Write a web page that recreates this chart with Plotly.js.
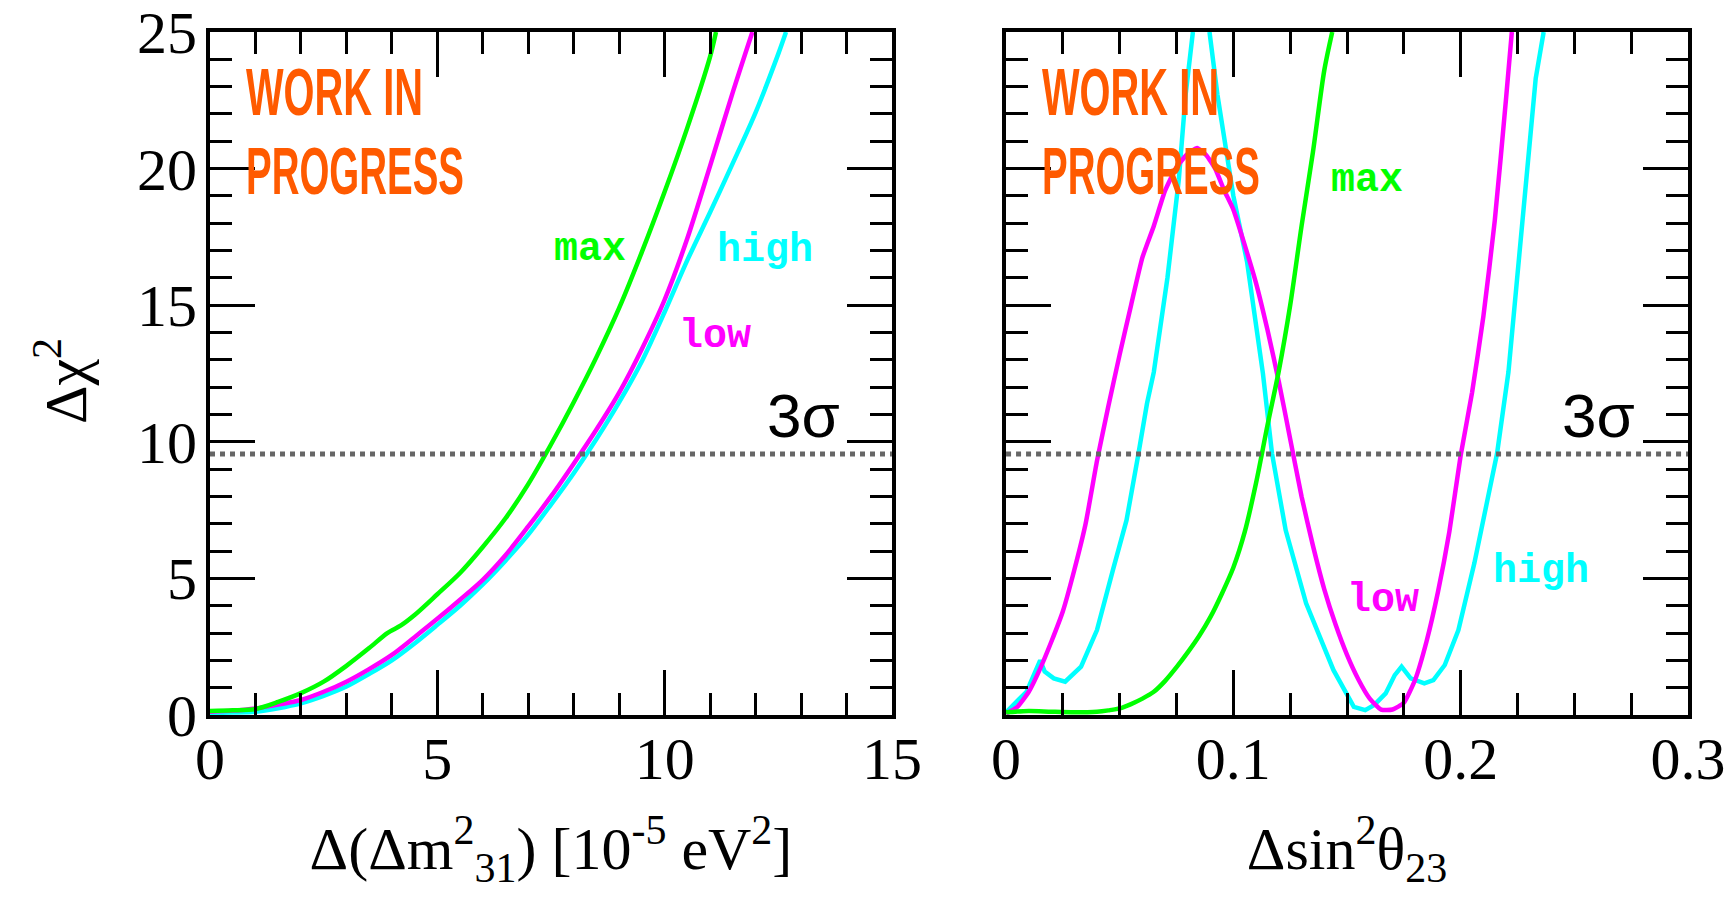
<!DOCTYPE html>
<html>
<head>
<meta charset="utf-8">
<script src="https://cdn.plot.ly/plotly-3.0.1.min.js"></script>
<style>
  html, body { margin: 0; padding: 0; background: #ffffff; }
  #chart { width: 1735px; height: 900px; }
</style>
</head>
<body>
<div id="chart"></div>
<script>
// ---------------- DATA ----------------
// Left panel: Delta(Delta m^2_31) [1e-5 eV^2]
var dmMaxX  = [0, 0.5, 1, 1.5, 2, 2.5, 3, 3.5, 3.9, 4.2, 4.5, 5, 5.5, 6, 6.5, 7, 7.5, 8, 8.5, 9, 9.5, 10, 10.5, 11, 11.13];
var dmMaxY  = [0.15, 0.17, 0.22, 0.48, 0.8, 1.22, 1.8, 2.45, 3.0, 3.28, 3.66, 4.42, 5.2, 6.15, 7.2, 8.45, 9.9, 11.45, 13.1, 14.9, 16.95, 19.15, 21.5, 24.1, 25];

var dmLowX  = [0, 0.5, 1, 1.5, 2, 2.5, 3, 3.5, 4, 4.5, 5, 5.5, 6, 6.5, 7, 7.5, 8, 8.5, 9, 9.5, 10, 10.5, 11, 11.5, 11.93];
var dmLowY  = [0.12, 0.16, 0.24, 0.38, 0.55, 0.85, 1.22, 1.68, 2.2, 2.85, 3.52, 4.22, 4.95, 5.85, 6.9, 8.0, 9.2, 10.45, 11.8, 13.4, 15.2, 17.45, 20.1, 22.8, 25];

var dmHighX = [0, 0.5, 1, 1.5, 2, 2.5, 3, 3.5, 4, 4.5, 5, 5.5, 6, 6.5, 7, 7.5, 8, 8.5, 9, 9.5, 10, 10.5, 11, 11.5, 12, 12.5, 12.67];
var dmHighY = [0.08, 0.09, 0.12, 0.25, 0.43, 0.7, 1.04, 1.5, 2.0, 2.62, 3.3, 4.0, 4.78, 5.65, 6.6, 7.7, 8.85, 10.1, 11.45, 12.95, 14.75, 16.65, 18.4, 20.2, 22.05, 24.2, 25];

// Right panel: Delta sin^2 theta_23
var thMaxX  = [0, 0.01, 0.02, 0.03, 0.04, 0.045, 0.05, 0.055, 0.06, 0.065, 0.07, 0.075, 0.08, 0.085, 0.09, 0.095, 0.1, 0.105, 0.11, 0.115, 0.12, 0.125, 0.13, 0.135, 0.14, 0.1435];
var thMaxY  = [0.1, 0.15, 0.12, 0.1, 0.12, 0.17, 0.24, 0.4, 0.6, 0.85, 1.25, 1.75, 2.3, 2.9, 3.6, 4.45, 5.4, 6.7, 8.5, 10.6, 12.6, 15.0, 17.9, 20.6, 23.6, 25];

var thLowX  = [0, 0.005, 0.01, 0.015, 0.02, 0.025, 0.03, 0.035, 0.04, 0.045, 0.05, 0.055, 0.06, 0.065, 0.07, 0.075, 0.08, 0.084, 0.088, 0.092, 0.096, 0.1, 0.105, 0.11, 0.115, 0.12, 0.125, 0.13, 0.135, 0.14, 0.145, 0.15, 0.155, 0.16, 0.165, 0.17, 0.175, 0.18, 0.185, 0.19, 0.195, 0.2, 0.205, 0.21, 0.215, 0.22, 0.2225];
var thLowY  = [0.05, 0.3, 0.85, 1.7, 2.7, 3.8, 5.3, 7.0, 9.3, 11.3, 13.2, 15.0, 16.75, 17.9, 19.2, 20.05, 20.55, 20.75, 20.5, 20.0, 19.2, 18.5, 17.2, 15.8, 14.1, 12.2, 10.1, 8.0, 6.2, 4.6, 3.3, 2.2, 1.3, 0.6, 0.2, 0.2, 0.45, 1.3, 2.7, 4.5, 6.7, 9.5, 11.8, 14.6, 18.1, 22.6, 25];

var thHighX = [0, 0.009, 0.015, 0.017, 0.021, 0.026, 0.033, 0.040, 0.047, 0.053, 0.058, 0.062, 0.065, 0.071, 0.076, 0.079, 0.0822, null, 0.0895, 0.093, 0.1, 0.106, 0.113, 0.117, 0.123, 0.132, 0.144, 0.149, 0.153, 0.158, 0.162, 0.167, 0.171, 0.174, 0.178, 0.184, 0.188, 0.193, 0.199, 0.206, 0.212, 0.216, 0.221, 0.225, 0.229, 0.233, 0.2365];
var thHighY = [0.1, 0.85, 2.0, 1.59, 1.34, 1.22, 1.77, 3.11, 5.3, 7.13, 9.45, 11.4, 12.55, 16.0, 19.6, 22.7, 25, null, 25, 22.7, 19.0, 16.6, 12.5, 9.57, 6.77, 4.09, 1.65, 0.91, 0.30, 0.18, 0.37, 0.79, 1.46, 1.77, 1.34, 1.16, 1.28, 1.83, 3.11, 5.55, 7.99, 9.57, 12.55, 16.0, 19.6, 23.3, 25];

var threeSigma = 9.55;
var dmRange = [0, 15];
var thRange = [0, 0.3];
var chiRange = [0, 25];

var seriesNames = ['max', 'high', 'low'];
var seriesColors = {max: '#00ff00', high: '#00ffff', low: '#ff00ff'};

// ---------------- TRACES ----------------
function curve(x, y, name, xa, ya, smooth) {
  var line = {color: seriesColors[name], width: 4.5};
  if (smooth) { line.shape = 'spline'; line.smoothing = smooth; }
  return {x: x, y: y, type: 'scatter', mode: 'lines', name: name, xaxis: xa, yaxis: ya,
          connectgaps: false, showlegend: false, hoverinfo: 'skip', line: line};
}
function sigmaLine(range, xa, ya) {
  return {x: range, y: [threeSigma, threeSigma], type: 'scatter', mode: 'lines', xaxis: xa, yaxis: ya,
          showlegend: false, hoverinfo: 'skip', line: {color: '#666666', width: 5, dash: 'dot'}};
}
var traces = [
  curve(dmHighX, dmHighY, 'high', 'x', 'y', 0.8),
  curve(dmLowX, dmLowY, 'low', 'x', 'y', 0.8),
  curve(dmMaxX, dmMaxY, 'max', 'x', 'y', 0.8),
  sigmaLine(dmRange, 'x', 'y'),
  curve(thHighX, thHighY, 'high', 'x2', 'y2'),
  curve(thLowX, thLowY, 'low', 'x2', 'y2', 0.5),
  curve(thMaxX, thMaxY, 'max', 'x2', 'y2', 0.8),
  sigmaLine(thRange, 'x2', 'y2')
];

// ---------------- LAYOUT ----------------
var serif = 'Liberation Serif, Times New Roman, serif';
function axis(extra) {
  var base = {
    showline: true, linewidth: 4, linecolor: '#000000', mirror: 'ticks',
    ticks: 'inside', ticklen: 45, tickwidth: 3, tickcolor: '#000000',
    showgrid: false, zeroline: false, fixedrange: true, ticklabeloverflow: 'allow',
    tickfont: {family: serif, size: 60, color: '#000000'},
    minor: {ticks: 'inside', ticklen: 22, tickwidth: 3, tickcolor: '#000000', showgrid: false}
  };
  for (var k in extra) {
    if (k === 'minor') { for (var m in extra.minor) base.minor[m] = extra.minor[m]; }
    else base[k] = extra[k];
  }
  return base;
}

var labelFont = function (c) { return {family: 'Liberation Mono, Courier New, monospace', size: 40, color: c, weight: 'bold'}; };
var wipFont = {family: 'Liberation Sans Narrow, Liberation Sans, Arial, sans-serif', size: 66, color: '#ff5a00', weight: 'bold'};
var sigFont = {family: 'Liberation Sans, Arial, sans-serif', size: 62, color: '#000000'};

function ann(text, x, y, xref, yref, font, xanchor, yanchor) {
  return {text: text, x: x, y: y, xref: xref, yref: yref, showarrow: false, font: font,
          xanchor: xanchor || 'center', yanchor: yanchor || 'middle'};
}

var annotations = [
  ann('WORK IN', 0.05, 0.969, 'x domain', 'y domain', wipFont, 'left', 'top'),
  ann('PROGRESS', 0.05, 0.853, 'x domain', 'y domain', wipFont, 'left', 'top'),
  ann('WORK IN', 0.05, 0.969, 'x2 domain', 'y2 domain', wipFont, 'left', 'top'),
  ann('PROGRESS', 0.05, 0.853, 'x2 domain', 'y2 domain', wipFont, 'left', 'top'),
  ann('3σ', 13.9, 9.63, 'x', 'y', sigFont, 'right', 'bottom'),
  ann('3σ', 0.2776, 9.63, 'x2', 'y2', sigFont, 'right', 'bottom'),
  ann(seriesNames[0], 8.36, 17.03, 'x', 'y', labelFont(seriesColors.max)),
  ann(seriesNames[1], 12.2, 17.0, 'x', 'y', labelFont(seriesColors.high)),
  ann(seriesNames[2], 11.1, 13.86, 'x', 'y', labelFont(seriesColors.low)),
  ann(seriesNames[0], 0.159, 19.56, 'x2', 'y2', labelFont(seriesColors.max)),
  ann(seriesNames[1], 0.2354, 5.24, 'x2', 'y2', labelFont(seriesColors.high)),
  ann(seriesNames[2], 0.166, 4.2, 'x2', 'y2', labelFont(seriesColors.low))
];

var layout = {
  width: 1735, height: 900,
  margin: {l: 210, r: 47, t: 32, b: 185},
  paper_bgcolor: '#ffffff', plot_bgcolor: '#ffffff',
  showlegend: false,
  xaxis: axis({domain: [0, 0.4614], range: dmRange, tick0: 0, dtick: 5, anchor: 'y',
               minor: {dtick: 1}, ticklabelstandoff: -12,
               title: {text: 'Δ(Δm<sup>2</sup><sub>31</sub>) [10<sup>-5</sup> eV<sup>2</sup>]',
                       font: {family: serif, size: 60, color: '#000000'}, standoff: 37}}),
  xaxis2: axis({domain: [0.5386, 1], range: thRange, tick0: 0, dtick: 0.1, anchor: 'y2',
                minor: {dtick: 0.025}, ticklabelstandoff: -12,
                title: {text: 'Δsin<sup>2</sup>θ<sub>23</sub>',
                        font: {family: serif, size: 60, color: '#000000'}, standoff: 37}}),
  yaxis: axis({range: chiRange, tick0: 0, dtick: 5, anchor: 'x', minor: {dtick: 1}, ticklabelstandoff: -3,
               title: {text: 'Δχ<sup>2</sup>&nbsp;', font: {family: serif, size: 60, color: '#000000'}, standoff: 32}}),
  yaxis2: axis({range: chiRange, tick0: 0, dtick: 5, anchor: 'x2', minor: {dtick: 1}, showticklabels: false}),
  annotations: annotations
};

Plotly.newPlot('chart', traces, layout, {staticPlot: true, displayModeBar: false}).then(function (gd) {
  // condense the "WORK IN PROGRESS" stamp to the narrow look of the original
  var targetWidth = {'WORK IN': 177, 'PROGRESS': 218};
  gd.querySelectorAll('text.annotation-text').forEach(function (t) {
    var w = targetWidth[t.textContent];
    if (!w) return;
    var bb = t.getBBox();
    if (!bb.width) return;
    var s = w / bb.width;
    t.style.transformBox = 'fill-box';
    t.style.transformOrigin = '0% 50%';
    t.style.transform = 'scaleX(' + s + ')';
  });
});
</script>
</body>
</html>
